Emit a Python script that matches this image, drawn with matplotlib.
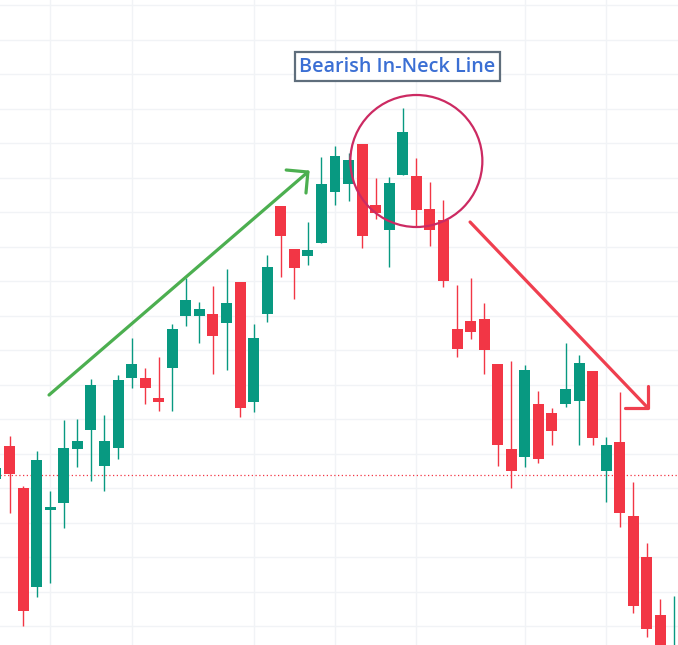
import matplotlib.pyplot as plt
from matplotlib.patches import Ellipse, Rectangle

# price levels (arbitrary units, one unit ~ one pixel)
opens = [166, 199, 157, 58, 135, 142, 196, 215, 179, 197,
         267, 267, 247, 277, 329, 329, 331, 322, 363, 243,
         331, 439, 396, 389, 402, 453, 461, 501, 440, 415,
         470, 469, 436, 425, 316, 324, 326, 281, 196, 188,
         241, 232, 241, 244, 274, 174, 203, 129, 88, 30, -40]
highs = [180, 209, 159, 194, 154, 225, 226, 266, 230, 270,
         307, 277, 288, 321, 367, 343, 359, 376, 363, 321,
         390, 439, 396, 423, 488, 499, 492, 501, 467, 468,
         537, 487, 463, 445, 360, 367, 342, 281, 284, 280,
         254, 237, 302, 290, 274, 208, 253, 163, 102, 46, 49]
lows = [160, 132, 19, 48, 62, 117, 178, 164, 154, 186,
        257, 241, 234, 234, 319, 302, 271, 275, 228, 233,
        323, 368, 346, 380, 402, 440, 444, 397, 426, 378,
        470, 418, 399, 358, 288, 306, 271, 179, 157, 178,
        182, 200, 238, 200, 200, 143, 118, 32, 8, -30, -50]
closes = [177, 171, 34, 185, 138, 197, 204, 260, 204, 265,
          281, 257, 243, 316, 345, 336, 309, 342, 237, 307,
          378, 409, 377, 395, 461, 489, 485, 409, 432, 462,
          513, 435, 415, 364, 296, 313, 295, 200, 174, 275,
          186, 214, 256, 282, 207, 200, 132, 39, 16, -20, -10]
last_price = 170
title = "Bearish In-Neck Line"

UP = "#089981"
DOWN = "#f23645"
GRID = "#f1f3f6"

fig = plt.figure(figsize=(6.78, 6.45), dpi=100)
ax = fig.add_axes([0, 0, 1, 1])
ax.set_xlim(0.295, 50.295)
ax.set_ylim(0, 645)
ax.axis("off")

# light grid
y = 640.0
while y > 0:
    ax.axhline(y, color=GRID, lw=1.0, zorder=0)
    y -= 34.5
for gx in [4, 10, 19, 25, 31, 39, 45]:
    ax.axvline(gx, color=GRID, lw=1.0, zorder=0)

ax.axhline(last_price, color=DOWN, lw=0.9, ls=(0, (1, 2)), zorder=1)

width = 0.81
for i, (o, h, l, c) in enumerate(zip(opens, highs, lows, closes)):
    color = UP if c >= o else DOWN
    ax.plot([i, i], [l, h], color=color, lw=1.0, zorder=2,
            solid_capstyle="butt")
    bottom = min(o, c)
    height = max(abs(c - o), 2)
    ax.add_patch(Rectangle((i - width / 2, bottom), width, height,
                           facecolor=color, edgecolor="none", zorder=3))

# uptrend arrow
green = "#4caf50"
ax.plot([3.91, 23.0], [250, 473], color=green, lw=2.3,
        solid_capstyle="round", zorder=4)
ax.plot([21.4, 23.0, 22.86], [475, 473, 452], color=green, lw=2.3,
        solid_capstyle="round", solid_joinstyle="round", zorder=4)

# downtrend arrow
red = "#ef3f4f"
ax.plot([34.96, 48.08], [423, 237], color=red, lw=2.3,
        solid_capstyle="round", zorder=4)
ax.plot([46.4, 48.08, 48.08], [237, 237, 259], color=red, lw=2.3,
        solid_capstyle="round", solid_joinstyle="round", zorder=4)

# pattern highlight
ax.add_patch(Ellipse((31.0, 484), 132 / 13.56, 132, fill=False,
                     edgecolor="#cc2a62", lw=1.6, zorder=5))

ax.text(29.6, 578.5, title, ha="center", va="center", fontsize=14.2,
        color="#3b6fd4", fontweight="semibold",
        family=["Open Sans", "Noto Sans", "DejaVu Sans"], zorder=6,
        bbox=dict(boxstyle="square,pad=0.22", facecolor="white",
                  edgecolor="#5f6e7c", lw=1.6))

fig.savefig("out.png", dpi=100)
